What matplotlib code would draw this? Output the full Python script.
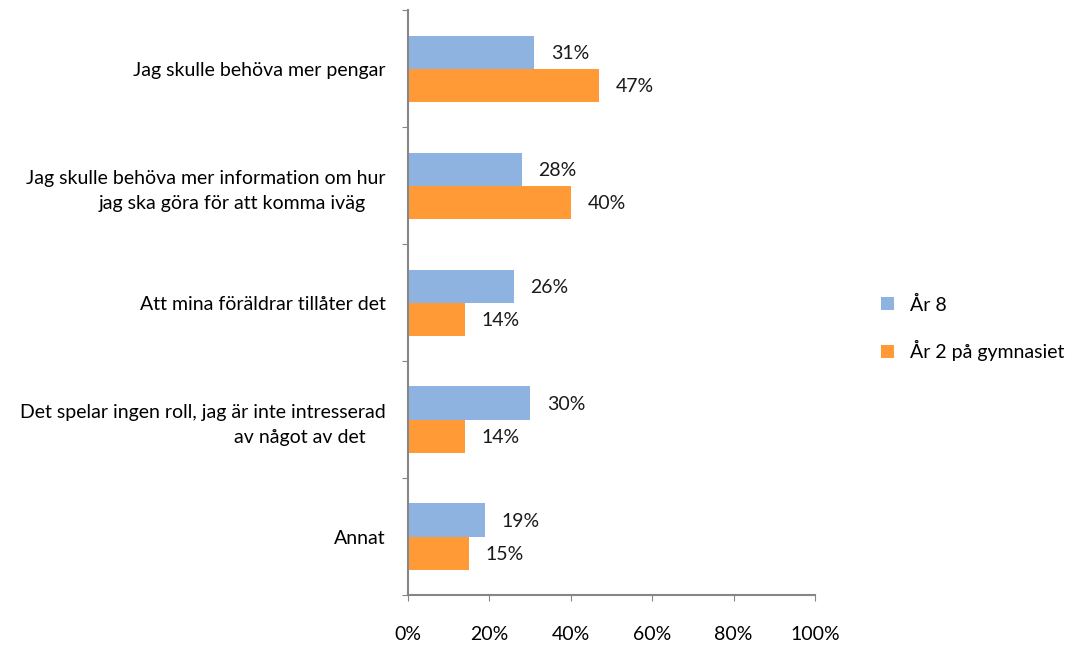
import matplotlib.pyplot as plt
import numpy as np
from matplotlib.ticker import PercentFormatter

plt.rcParams["font.family"] = ["Lato", "DejaVu Sans"]

# 数据
categories = [
    "Jag skulle behöva mer pengar",
    "Jag skulle behöva mer information om hur\njag ska göra för att komma iväg    ",
    "Att mina föräldrar tillåter det",
    "Det spelar ingen roll, jag är inte intresserad\nav något av det    ",
    "Annat",
]
series_names = ["År 8", "År 2 på gymnasiet"]
ar8 = [31, 28, 26, 30, 19]
gymn = [47, 40, 14, 14, 15]
colors = ["#8eb3e1", "#ff9a36"]

fig = plt.figure(figsize=(10.68, 6.46), dpi=100)
ax = fig.add_axes([0.382, 0.079, 0.381, 0.905])

y = np.arange(len(categories))
h = 0.283
b1 = ax.barh(y - h / 2, ar8, height=h, color=colors[0], label=series_names[0])
b2 = ax.barh(y + h / 2, gymn, height=h, color=colors[1], label=series_names[1])

# 数值标签
for bars, vals in [(b1, ar8), (b2, gymn)]:
    for bar, v in zip(bars, vals):
        ax.annotate(f"{v}%", (v, bar.get_y() + bar.get_height() / 2),
                    xytext=(12, -1), textcoords="offset points",
                    va="center", ha="left", fontsize=14, color="#1a1a1a")

ax.set_xlim(0, 100)
ax.set_ylim(len(categories) - 0.5, -0.5)
ax.xaxis.set_major_formatter(PercentFormatter(decimals=0))
ax.set_xticks(np.arange(0, 101, 20))

# y 轴刻度在类别之间
ax.set_yticks(np.arange(-0.5, len(categories), 1))
ax.set_yticklabels([])
ax.set_yticks(y, minor=True)
ax.set_yticklabels(categories, minor=True, fontsize=14, ha="right",
                   multialignment="right", linespacing=1.55)
ax.tick_params(axis="y", which="minor", length=0, pad=16)
ax.tick_params(axis="y", which="major", length=4, color="#868686")
ax.tick_params(axis="x", length=4, color="#868686", pad=18, labelsize=14)

for side in ["top", "right"]:
    ax.spines[side].set_visible(False)
for side in ["left", "bottom"]:
    ax.spines[side].set_color("#868686")
    ax.spines[side].set_linewidth(1.5)

ax.legend(loc="center left", bbox_to_anchor=(1.12, 0.456), frameon=False,
          fontsize=14, handlelength=0.65, handleheight=0.65, labelspacing=1.35,
          handletextpad=0.85)

plt.savefig("out.png")
plt.close()
